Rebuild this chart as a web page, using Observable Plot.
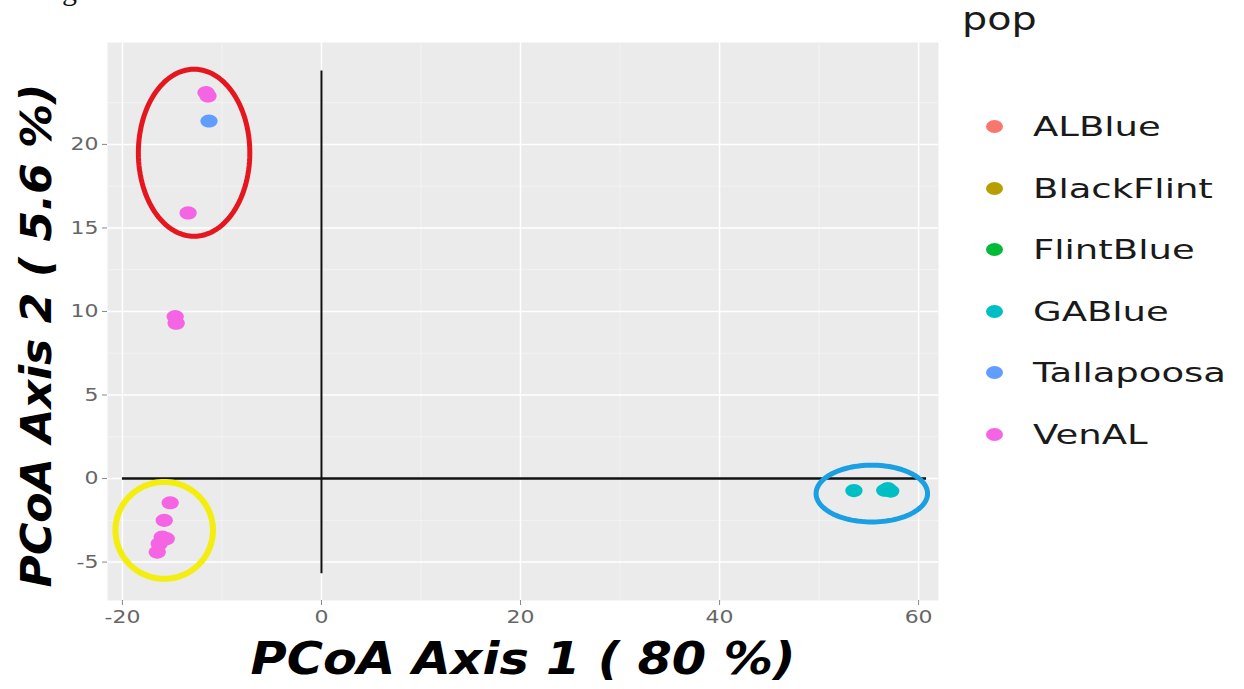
<!DOCTYPE html>
<html>
<head>
<meta charset="utf-8">
<script src="https://cdn.jsdelivr.net/npm/d3@7"></script>
<script src="https://cdn.jsdelivr.net/npm/@observablehq/plot@0.6"></script>
<style>
  html, body { margin: 0; padding: 0; background: #fff; overflow: hidden; }
  #wrap { position: relative; width: 1244px; height: 689px; overflow: hidden; }
  #chart { position: absolute; left: 0; top: 0; }
  #fig { position: absolute; left: 37px; top: -27px; font-family: "Liberation Serif", serif; font-size: 30px; line-height: 34px; color: #111; }
  #legend { position: absolute; left: 962px; top: 0; font-family: "DejaVu Sans", sans-serif; color: #1a1a1a; }
  #legend .title { position: absolute; left: 0; top: 1px; font-size: 32px; line-height: 36px; white-space: nowrap; transform: scaleX(1.24); transform-origin: 0 0; }
  #legend .item { position: absolute; left: 0; white-space: nowrap; font-size: 27px; height: 40px; line-height: 40px; }
  #legend .dot { position: absolute; left: 24px; top: 13px; width: 17px; height: 13px; border-radius: 50%; }
  #legend .lab { position: absolute; left: 71px; top: 0; transform: scaleX(1.37); transform-origin: 0 0; }
</style>
</head>
<body>
<div id="wrap">
  <div id="fig">Figure 3.</div>
  <div id="chart"></div>
  <div id="legend"></div>
</div>
<script>
// ---- data ----
const pops = ["ALBlue", "BlackFlint", "FlintBlue", "GABlue", "Tallapoosa", "VenAL"];
const popColors = ["#F8766D", "#B79F00", "#00BA38", "#00BFC4", "#619CFF", "#F564E3"];

const samplePop = ["VenAL", "VenAL", "Tallapoosa", "VenAL", "VenAL", "VenAL",
  "VenAL", "VenAL", "VenAL", "VenAL", "VenAL", "VenAL",
  "GABlue", "GABlue", "GABlue", "GABlue"];
const sampleX = [-11.6, -11.4, -11.3, -13.4, -14.7, -14.6,
  -15.2, -15.8, -16.0, -16.3, -16.5, -15.6,
  53.5, 56.6, 57.2, 56.9];
const sampleY = [23.1, 22.9, 21.4, 15.9, 9.7, 9.3,
  -1.45, -2.5, -3.5, -3.9, -4.4, -3.6,
  -0.72, -0.7, -0.75, -0.6];

const xTicks = [-20, 0, 20, 40, 60];
const yTicks = [-5, 0, 5, 10, 15, 20];
const xMinor = [-10, 10, 30, 50];
const yMinor = [-2.5, 2.5, 7.5, 12.5, 17.5, 22.5];

// reference axes lines (data units)
const hLineX = [-20, 60.8];
const vLineY = [-5.7, 24.4];

// highlight rings (data units)
const ringCx = [-12.8, -15.8, 55.3];
const ringCy = [19.5, -3.1, -0.9];
const ringRx = [5.6, 4.9, 5.6];
const ringRy = [5.0, 2.9, 1.7];
const ringColors = ["#e5161d", "#f3ee10", "#1a9fe2"];
const ringWidths = [5, 6, 5];

const xTitle = "PCoA Axis 1 ( 80 %)";
const yTitle = "PCoA Axis 2 ( 5.6 %)";
const legendTitle = "pop";

// ---- build tables ----
const samples = samplePop.map((p, i) => ({pop: p, x: sampleX[i], y: sampleY[i]}));
const rings = [];
ringCx.forEach((cx, k) => {
  for (let a = 0; a <= 120; a++) {
    const t = a / 120 * 2 * Math.PI;
    rings.push({ring: k, x: cx + ringRx[k] * Math.cos(t), y: ringCy[k] + ringRy[k] * Math.sin(t)});
  }
});

// slightly wide elliptical dot symbol (the reference image is stretched horizontally)
const wideDot = {
  draw(context, size) {
    const r = Math.sqrt(size / Math.PI);
    const rx = r * 1.15, ry = r * 0.88, k = 0.5523;
    context.moveTo(rx, 0);
    context.bezierCurveTo(rx, k * ry, k * rx, ry, 0, ry);
    context.bezierCurveTo(-k * rx, ry, -rx, k * ry, -rx, 0);
    context.bezierCurveTo(-rx, -k * ry, -k * rx, -ry, 0, -ry);
    context.bezierCurveTo(k * rx, -ry, rx, -k * ry, rx, 0);
    context.closePath();
  }
};

const tickFont = {fill: "#666", fontSize: 18, fontFamily: "DejaVu Sans, sans-serif"};
const fmt = d => String(d);

const chart = Plot.plot({
  width: 950,
  height: 689,
  marginLeft: 107,
  marginRight: 12,
  marginTop: 42,
  marginBottom: 89,
  style: {background: "transparent", fontFamily: "DejaVu Sans, sans-serif"},
  x: {domain: [-21.5, 62], label: null},
  y: {domain: [-7.3, 26.1], label: null},
  color: {domain: pops, range: popColors},
  marks: [
    Plot.frame({fill: "#ebebeb", stroke: null}),
    Plot.ruleX(xMinor, {stroke: "#f5f5f5", strokeWidth: 0.8}),
    Plot.ruleY(yMinor, {stroke: "#f5f5f5", strokeWidth: 0.8}),
    Plot.ruleX(xTicks, {stroke: "#fff", strokeWidth: 1.5}),
    Plot.ruleY(yTicks, {stroke: "#fff", strokeWidth: 1.5}),
    Plot.axisX(xTicks, {tickSize: 5, tickPadding: 5, stroke: "#888", tickFormat: fmt, ...tickFont}),
    Plot.axisY(yTicks, {tickSize: 5, tickPadding: 4, stroke: "#888", tickFormat: fmt, ...tickFont}),
    Plot.ruleY([0], {x1: hLineX[0], x2: hLineX[1], stroke: "#111", strokeWidth: 2.6}),
    Plot.ruleX([0], {y1: vLineY[0], y2: vLineY[1], stroke: "#111", strokeWidth: 2}),
    Plot.dot(samples, {x: "x", y: "y", fill: "pop", r: 7.5, symbol: wideDot, stroke: null}),
    Plot.line(rings, {x: "x", y: "y", z: "ring", stroke: d => ringColors[d.ring], strokeWidth: d => ringWidths[d.ring], curve: "linear-closed"}),
    Plot.text([xTitle], {frameAnchor: "bottom", dy: 73, fontSize: 44, fontWeight: "bold", fontStyle: "italic", fill: "#000", fontFamily: "DejaVu Sans, sans-serif"}),
    Plot.text([yTitle], {frameAnchor: "left", dx: -70, dy: 14, rotate: -90, textAnchor: "middle", fontSize: 42, fontWeight: "bold", fontStyle: "italic", fill: "#000", fontFamily: "DejaVu Sans, sans-serif"})
  ]
});
document.getElementById("chart").appendChild(chart);

// stretch texts horizontally like the (horizontally stretched) reference image
d3.select(chart).selectAll("text").each(function() {
  const s = this.textContent;
  if (s === xTitle) {
    this.setAttribute("textLength", 545);
    this.setAttribute("lengthAdjust", "spacingAndGlyphs");
  } else if (s === yTitle) {
    this.setAttribute("textLength", 504);
    this.setAttribute("lengthAdjust", "spacingAndGlyphs");
  } else {
    const w = this.getComputedTextLength();
    if (w > 0) {
      this.setAttribute("textLength", w * 1.22);
      this.setAttribute("lengthAdjust", "spacingAndGlyphs");
    }
  }
});

// ---- legend ----
const leg = document.getElementById("legend");
const t = document.createElement("div");
t.className = "title";
t.textContent = legendTitle;
leg.appendChild(t);
pops.forEach((p, i) => {
  const it = document.createElement("div");
  it.className = "item";
  it.style.top = (107 + i * 61.5) + "px";
  const d = document.createElement("span");
  d.className = "dot";
  d.style.background = popColors[i];
  const l = document.createElement("span");
  l.className = "lab";
  l.textContent = p;
  it.appendChild(d);
  it.appendChild(l);
  leg.appendChild(it);
});
</script>
</body>
</html>
